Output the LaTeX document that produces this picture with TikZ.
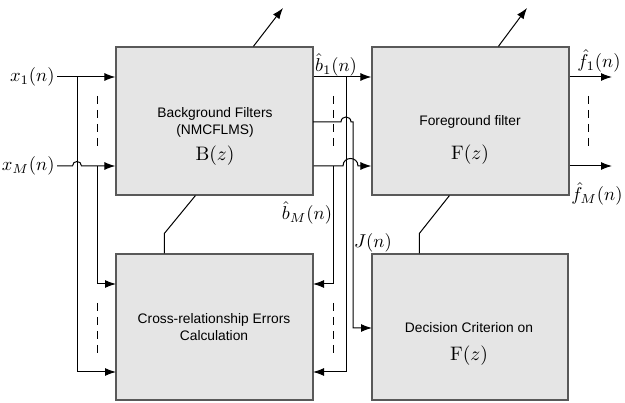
\documentclass[tikz,border=0pt]{standalone}
\usepackage{fontspec}
\newfontfamily\helv{Liberation Sans}
\usetikzlibrary{arrows.meta,calc}
\tikzset{
  blk/.style={draw=black!65, line width=1.2pt, fill=black!10,
    minimum width=197pt, minimum height=148pt, inner sep=0pt},
  wire/.style={line width=1pt},
  arr/.style={wire, -{Latex[length=11pt,width=8pt]}},
  dashv/.style={line width=1pt, dash pattern=on 8pt off 6pt},
  lbl/.style={font=\normalsize, scale=1.86, inner sep=0pt},
  txt/.style={font=\helv\fontsize{13.8}{17}\selectfont, align=center, inner sep=0pt},
}
\begin{document}
\begin{tikzpicture}[x=1pt,y=-1pt]
\useasboundingbox (0,0) rectangle (625,403);

% blocks
\node[blk] (B) at (214.5,121) {};
\node[blk] (F) at (470.5,121) {};
\node[blk, minimum height=146pt] (C) at (214.5,327) {};
\node[blk, minimum height=146pt, minimum width=196pt] (D) at (470,327) {};

% block texts
\node[txt] (Btxt) at (215,122) {Background Filters\\(NMCFLMS)};
\node[lbl, scale=1.05] (Bz) at (215,156) {$\mathrm{B}(z)$};
\node[txt] (Ftxt) at (470,122) {Foreground filter};
\node[lbl, scale=1.05] (Fz) at (470,155) {$\mathrm{F}(z)$};
\node[txt] (Ctxt) at (214,327) {Cross-relationship Errors\\Calculation};
\node[txt] (Dtxt) at (469,328) {Decision Criterion on};
\node[lbl, scale=1.05] (Dz) at (469,356) {$\mathrm{F}(z)$};

% signal labels
\node[lbl, anchor=east] (x1) at (55,77) {$x_1(n)$};
\node[lbl, anchor=east] (xM) at (55,166) {$x_M(n)$};
\node[lbl] (b1) at (336,65) {$\hat b_1(n)$};
\node[lbl] (bM) at (307,213) {$\hat b_M(n)$};
\node[lbl] (Jn) at (373,243) {$J(n)$};
\node[lbl] (f1) at (599,61) {$\hat f_1(n)$};
\node[lbl, anchor=east] (fM) at (623,194) {$\hat f_M(n)$};

% junction and end points
\coordinate (x1o) at (57,77);
\coordinate (xMo) at (57,166);
\coordinate (v1) at (77,77);
\coordinate (vM) at (97,166);
\coordinate (cl1) at (116,284);
\coordinate (cl2) at (116,372);
\coordinate (s1) at (346,77);
\coordinate (sM) at (333,166);
\coordinate (cr1) at (313,284);
\coordinate (cr2) at (313,372);
\coordinate (r2) at (313,122);
\coordinate (dJ) at (372,328);
\coordinate (o1) at (612,77);
\coordinate (oM) at (612,166);
\coordinate (Bup) at (283,8);
\coordinate (Fup) at (527,8);

% inputs
\draw[arr] (x1o) -- (B.west |- x1o);
\draw[arr] (xMo) -- (72.5,166) .. controls (72.5,160) and (81.5,160) .. (81.5,166) -- (B.west |- xMo);
\draw[arr] (v1) |- (cl2);
\draw[arr] (vM) |- (cl1);

% background outputs
\draw[arr] (B.east |- x1o) -- (F.west |- x1o);
\draw[arr] (s1) |- (cr2);
\draw[arr] (r2) -- (341,122) .. controls (341,115.3) and (351,115.3) .. (351,122) -- (353,122) |- (dJ);
\draw[arr] (B.east |- xMo) -- (343,166) .. controls (343,156) and (358,156) .. (358,166) -- (F.west |- xMo);
\draw[arr] (sM) |- (cr1);

% foreground outputs
\draw[arr] (F.east |- o1) -- (o1);
\draw[arr] (F.east |- oM) -- (oM);

% adaptation arrows
\draw[arr] ($(B.north west)+(138,0)$) -- (Bup);
\draw[arr] ($(F.north west)+(127,0)$) -- (Fup);

% links between lower and upper blocks
\draw[wire] ($(C.north west)+(49,0)$) -- ++(0,-20) -- ($(B.south west)+(80,0)$);
\draw[wire] ($(D.north west)+(48,0)$) -- ++(0,-20) -- ($(F.south west)+(78,0)$);

% dashed ellipsis marks
\draw[dashv] (97,96) -- (97,147);
\draw[dashv] (97,303) -- (97,353);
\draw[dashv] (333,96) -- (333,147);
\draw[dashv] (333,303) -- (333,353);
\draw[dashv] (588,96) -- (588,147);
\end{tikzpicture}
\end{document}
